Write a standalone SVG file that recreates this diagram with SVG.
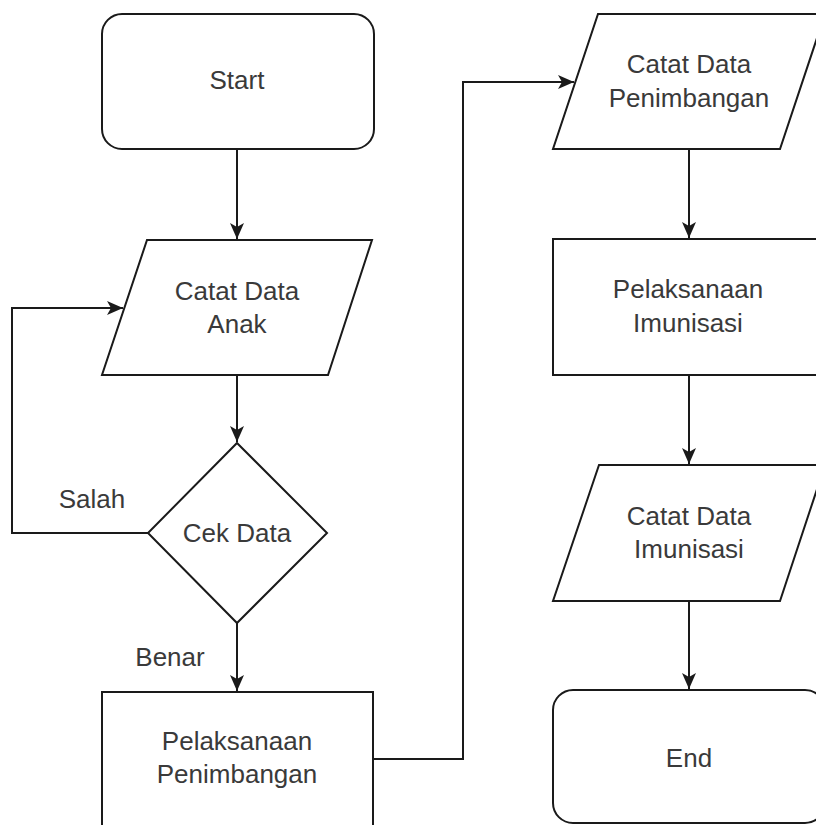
<svg xmlns="http://www.w3.org/2000/svg" width="816" height="825" viewBox="0 0 816 825">
<style>
.shape{fill:#ffffff;stroke:#1a1a1a;stroke-width:2}
.lbl{font-family:"Liberation Sans",Arial,sans-serif;font-size:26px;fill:#3a3a3a;text-anchor:middle}
.edge{fill:none;stroke:#1a1a1a;stroke-width:2;marker-end:url(#arr)}
</style>
<defs>
<marker id="arr" viewBox="0 0 16 16" refX="16" refY="8" markerWidth="16" markerHeight="16" markerUnits="userSpaceOnUse" orient="auto">
<path d="M0,1 L16,8 L0,15 L4,8 Z" fill="#1a1a1a"/>
</marker>
</defs>
<rect width="816" height="825" fill="#ffffff"/>
<g id="connectors">
<path class="edge" d="M237,149 V239"/>
<path class="edge" d="M237,375 V442"/>
<path class="edge" d="M148,533 H12 V308 H123"/>
<path class="edge" d="M237,623 V691"/>
<path class="edge" d="M373,759 H463 V82 H574"/>
<path class="edge" d="M689,149 V238"/>
<path class="edge" d="M689,375 V464"/>
<path class="edge" d="M689,601 V689"/>
</g>
<g id="start">
<rect class="shape" x="102" y="14" width="272" height="135" rx="20" ry="20"/>
<text class="lbl" x="237" y="89">Start</text>
</g>
<g id="catat-data-anak">
<polygon class="shape" points="147,240 372,240 328,375 102,375"/>
<text class="lbl" x="237" y="300">Catat Data</text>
<text class="lbl" x="237" y="333">Anak</text>
</g>
<g id="cek-data">
<polygon class="shape" points="237,443 327,533 237,623 148,533"/>
<text class="lbl" x="237" y="542">Cek Data</text>
</g>
<g id="label-salah">
<text class="lbl" x="92" y="508">Salah</text>
</g>
<g id="label-benar">
<text class="lbl" x="170" y="666">Benar</text>
</g>
<g id="pelaksanaan-penimbangan">
<rect class="shape" x="102" y="692" width="271" height="136"/>
<text class="lbl" x="237" y="750">Pelaksanaan</text>
<text class="lbl" x="237" y="783">Penimbangan</text>
</g>
<g id="catat-data-penimbangan">
<polygon class="shape" points="598,14 825,14 780,149 553,149"/>
<text class="lbl" x="689" y="73">Catat Data</text>
<text class="lbl" x="689" y="107">Penimbangan</text>
</g>
<g id="pelaksanaan-imunisasi">
<rect class="shape" x="553" y="239" width="272" height="136"/>
<text class="lbl" x="688" y="298">Pelaksanaan</text>
<text class="lbl" x="688" y="332">Imunisasi</text>
</g>
<g id="catat-data-imunisasi">
<polygon class="shape" points="599,465 825,465 780,601 553,601"/>
<text class="lbl" x="689" y="525">Catat Data</text>
<text class="lbl" x="689" y="558">Imunisasi</text>
</g>
<g id="end">
<rect class="shape" x="553" y="690" width="272" height="133" rx="20" ry="20"/>
<text class="lbl" x="689" y="767">End</text>
</g>
</svg>
